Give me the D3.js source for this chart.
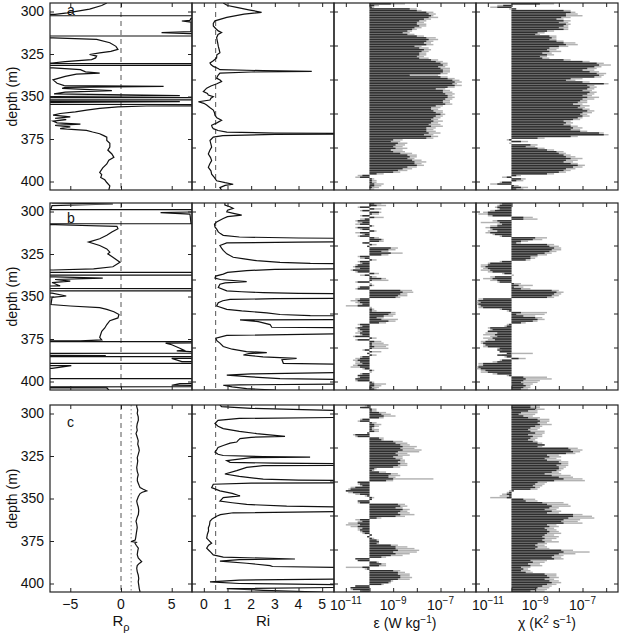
<!DOCTYPE html>
<meta charset="utf-8">
<style>
  body { margin: 0; background: #fff; }
  text { font-family: "Liberation Sans", Arial, sans-serif; fill: #111; }
</style>
<svg width="621" height="635"></svg>
<script src="https://cdn.jsdelivr.net/npm/d3@7"></script>
<script>

// ---- data ----
// profiles: [depth (m), value]; +-50 / 8 mean "off the panel" (clipped)
var rrA = [[295,-1.4],[296.5,-1.9],[298.6,-3.1],[300.8,-5.3],[301.7,-6.5],[302.4,-50],[302.6,50],[304,6.9],[305.2,6.8],[305.6,6.0],[306.2,6.9],[311.8,6.9],[312.4,4.0],[313,6.8],[314.3,50],[314.5,-50],[315.5,-6.7],[316.4,-2.4],[318.4,-1.1],[320.5,-0.5],[322.3,-0.3],[323.5,-1.0],[324.3,-2.1],[325.3,-3.1],[326.2,-2.4],[327.3,-2.5],[328.3,-2.9],[329.5,-5.5],[330.3,-6.8],[330.5,-50],[330.7,50],[331.6,50],[331.8,-50],[333.2,-6.7],[334.2,-4.0],[335.5,-3.5],[336.2,-2.1],[336.8,-4.4],[338.2,-5.5],[340.2,-6.7],[342.2,-6.3],[343.6,-5.6],[344.1,4.2],[344.6,-5.5],[345.2,-5.8],[346.5,-0.9],[347.4,-5.5],[348.5,-6.6],[349.5,5.8],[350,-6.5],[350.6,-50],[350.8,50],[351.9,50],[352.1,-50],[353,5.8],[353.4,-6.5],[354.6,-50],[354.8,50],[355.6,2.5],[356.1,-0.3],[357,-2.1],[358,-3.4],[359,-4.5],[360,-6.0],[361,-6.7],[362,-5.0],[362.8,-6.5],[363.6,-5.4],[364.5,-6.7],[365.5,-6.3],[366.3,-4.0],[367,-6.5],[367.9,-5.0],[368.9,-6.0],[369.9,-3.4],[370.9,-2.8],[371.9,-2.1],[373,-1.7],[373.9,-1.4],[375.9,-1.4],[377.5,-1.1],[379.8,-1.1],[381.5,-1.3],[383.8,-0.9],[385.8,-0.7],[387.5,-1.2],[389.7,-1.4],[392,-1.8],[394.7,-2.1],[396,-1.9],[397.7,-2.0],[399,-1.6],[400.6,-1.4],[402.6,-1.1],[405,-1.2]];
var rrB = [[295,-6.8],[295.6,-0.8],[296.5,-6.8],[298.5,-6.9],[298.8,-50],[299,50],[300.3,6.8],[300.7,3.9],[301.5,6.8],[306.9,6.9],[307.1,50],[307.3,-50],[307.8,-6.5],[308.7,-0.4],[310.1,-0.3],[312,-0.9],[314,-1.4],[316,-2.1],[318,-3.2],[320,-2.1],[322,-1.4],[323.9,-1.1],[324.9,-1.3],[326.9,-0.8],[329.9,-0.1],[332.5,-0.8],[333.8,-2.7],[334.4,-6.7],[335.7,-50],[335.9,50],[337.3,50],[337.5,-50],[338.5,-6.5],[339.2,-1.8],[340,-6.5],[341,-5.0],[341.8,-6.8],[343.8,-6.0],[345.2,-50],[345.4,50],[346.6,50],[346.8,-50],[348,-6.8],[349.7,-5.4],[350.5,-6.8],[354.7,-6.9],[355.6,-5.0],[356.6,-2.1],[357.6,-1.4],[359,-0.7],[360.6,-0.2],[362.6,-0.3],[364.2,-1.1],[366.5,-1.4],[368.5,-1.6],[370.5,-1.9],[374.1,-2.1],[375.5,-1.9],[376.1,-4.0],[376.4,-50],[376.6,50],[377.4,4.4],[378.4,5.0],[380.4,5.8],[381.5,6.2],[382,5.5],[382.4,6.8],[383.3,50],[383.5,-50],[384.8,-1.5],[385.3,-50],[385.5,50],[386.4,5.0],[388.3,6.0],[389.2,50],[389.4,-50],[390.7,-4.9],[392.3,-6.8],[398.2,-50],[398.4,50],[401.2,5.8],[402.2,5.0],[403,50],[403.2,-50],[403.8,-1.4],[405,-1.2]];
var rrC = [[295,1.55],[296,1.55],[298,1.65],[300,1.6],[302,1.7],[303.9,1.71],[306,1.6],[308,1.55],[310,1.6],[311.8,1.48],[314,1.6],[316,1.7],[318,1.65],[320,1.75],[321.8,1.8],[324,1.7],[326,1.6],[328,1.65],[330,1.6],[331.7,1.55],[334,1.6],[336,1.7],[338,1.62],[339.6,1.61],[341,1.7],[342.5,1.8],[343.6,1.88],[344.6,2.2],[345.5,2.53],[346.3,2.1],[347.1,1.88],[349,1.7],[351.5,1.55],[353,1.6],[355,1.7],[357,1.75],[359.4,1.71],[361,1.6],[363.4,1.48],[365,1.55],[367,1.6],[369,1.55],[371,1.5],[373,1.45],[374.5,1.4],[375.3,1.0],[375.8,1.5],[376.3,1.38],[377.5,1.5],[379.2,1.71],[381,1.65],[383,1.6],[385,1.7],[386.3,1.9],[387.2,2.04],[388.2,1.8],[389.5,1.6],[391.1,1.55],[393,1.6],[395,1.7],[397,1.75],[399,1.7],[401,1.75],[403,1.8],[405,1.88]];

var riA = [[295,0.82],[296.5,1.0],[297.6,1.39],[299,1.9],[300.5,2.44],[301.5,1.7],[303.5,0.97],[305.5,0.47],[307,0.4],[308.5,0.4],[310,0.5],[311.4,0.61],[312.4,0.75],[313.5,0.6],[315.4,0.54],[318,0.58],[320.4,0.61],[322.5,0.65],[324.3,0.68],[325.5,0.55],[327.3,0.54],[329,0.4],[330.3,0.26],[331.2,0.3],[332.3,0.4],[333.5,0.6],[334.2,0.68],[334.8,2.5],[335.2,4.56],[335.6,2.0],[336.2,0.68],[337.5,0.6],[339.2,0.54],[340.5,0.7],[341.2,0.75],[342.5,0.55],[343.8,0.3],[345.1,0.12],[347.1,-0.02],[348.2,0.15],[349.1,0.19],[350.1,0.4],[351,0.3],[352.1,0.26],[353.1,-0.23],[354,0.0],[355,0.12],[356.5,0.25],[358,0.4],[359.5,0.45],[361,0.47],[362.5,0.55],[364,0.75],[365.5,0.55],[366.9,0.33],[368,0.35],[368.9,0.4],[370,0.6],[370.9,0.97],[371.5,3.0],[371.9,8],[372.3,3],[373,0.8],[373.9,0.4],[375.9,0.26],[378,0.3],[379.8,0.33],[381.8,0.25],[383.8,0.19],[385.8,0.28],[387.7,0.33],[389.7,0.25],[391.7,0.19],[393.7,0.3],[395.7,0.33],[397.7,0.45],[399.6,0.54],[400.7,0.9],[401.6,1.24],[402.3,0.9],[403.6,0.68],[405,0.75]];
var riB = [[295,0.89],[296.2,0.89],[297.2,1.1],[298.2,1.24],[299.2,1.0],[300.2,0.97],[301.2,1.3],[302.1,1.6],[303,1.0],[304.1,0.82],[306.1,0.54],[307.5,0.45],[309.1,0.47],[310.5,0.55],[312,0.61],[313,0.7],[314,0.82],[315,1.5],[315.6,4],[316,8],[317.6,8],[318,4],[318.5,0.97],[320,0.68],[321.5,0.75],[322.9,0.82],[324.9,0.97],[326.9,1.24],[327.9,1.7],[328.9,2.23],[329.9,3.22],[330.5,4.5],[330.9,8],[333.6,8],[334,3],[334.8,1.81],[335.8,1.0],[336.8,0.82],[338,0.5],[339.2,0.47],[340,0.7],[341.2,1.81],[342,0.9],[342.8,0.68],[344.7,0.61],[346.7,0.97],[347.2,1.6],[347.7,2.51],[348.2,4],[348.5,8],[350.9,8],[351.3,3],[351.7,1.11],[352.5,0.8],[353.7,0.61],[355.6,0.54],[357.6,0.97],[358.5,1.6],[359.6,2.66],[360.6,3.22],[361.2,4.5],[361.6,8],[363.5,8],[363.8,1.53],[364.8,2.3],[366.5,2.8],[368.1,2.87],[368.5,8],[371.5,8],[372.9,0.97],[374.5,0.51],[376,0.55],[377.4,0.68],[379.4,0.82],[381,1.2],[382.4,1.8],[383,2.66],[383.6,1.9],[384.4,1.67],[385.5,2.5],[386.4,3.92],[387.2,3.3],[389.3,3.36],[390.3,8],[394.3,8],[395.5,2],[396.3,0.97],[397.3,2],[398.3,3.22],[399.2,8],[401.2,8],[402,1.5],[402.2,0.82],[403.2,1.2],[404.2,1.81],[405,3.0]];
var riC = [[295,0.68],[296,0.75],[297,2],[298,5],[299,8],[302,8],[302.9,1.5],[304,0.6],[305.9,0.47],[307.5,0.6],[308.9,0.82],[310.5,1.5],[311.8,2.23],[313.4,3.43],[314,2.0],[314.8,1.53],[315.8,1.45],[316.8,1.39],[317.4,1.11],[318.8,0.82],[320,0.6],[321.4,0.54],[322.7,0.47],[324,0.6],[324.7,0.82],[325.4,2.5],[325.7,4.49],[326,2],[327.7,0.97],[328.7,1.11],[329.2,3],[329.7,8],[330.5,8],[330.7,2.5],[331.7,1.81],[333.6,1.39],[335.6,0.89],[337,1.5],[338.6,2.51],[339.2,4],[339.6,8],[340.6,8],[341,2],[341.6,0.4],[343.6,0.33],[345.5,0.68],[347,1.2],[348.5,1.53],[349.5,0.82],[350.5,0.75],[351.5,0.68],[352.5,1.2],[353.5,1.81],[354.5,3.5],[355.4,8],[357.4,8],[358.4,1.24],[359.5,0.7],[360.4,0.54],[362,0.35],[363.4,0.26],[365.5,0.24],[367.3,0.19],[369,0.2],[371,0.15],[373.3,0.12],[374.5,0.2],[376.3,0.33],[377.5,0.2],[379.2,0.12],[381,0.25],[383.2,0.4],[384.5,0.82],[385.6,3.85],[386,1.5],[386.8,0.68],[388.1,1.81],[389.5,2.8],[390,2.9],[391.1,8],[397.1,8],[398,1.5],[399,0.26],[400,1.5],[401,8],[402,8],[403,0.97],[404,2.51],[405,5]];

// 1 m bins from 295 to 404 m, log10 of epsilon / chi; bars start at 1e-10
var epsDarkA = [-9.1,-9.8,-9.9,-8.3,-8.0, -7.6,-7.5,-7.4,-7.5,-7.7, -7.9,-8.0,-8.0,-7.9,-8.1, -8.2,-8.4,-8.6,-8.4,-8.0, -7.6,-7.5,-7.6,-7.7,-7.6, -8.1,-7.9,-7.7,-7.8,-7.9, -7.9,-8.0,-7.9,-7.4,-7.2, -7.0,-6.9,-7.1,-7.0,-6.9, -6.9,-7.0,-8.3,-7.0,-6.7, -6.5,-6.4,-6.5,-6.4,-6.7, -7.2,-6.9,-6.9,-6.8,-6.7, -6.7,-6.8,-6.9,-6.9,-6.8, -7.2,-7.4,-7.4,-7.3,-7.2, -7.0,-7.2,-7.3,-7.4,-7.3, -7.4,-7.5,-7.4,-7.6,-7.6, -7.6,-7.5,-7.7,-7.4,-7.6, -9.0,-9.1,-8.8,-8.9,-9.0, -8.9,-9.1,-9.0,-8.7,-8.4, -8.3,-8.4,-8.2,-8.1,-8.1, -8.0,-8.4,-8.6,-8.8,-9.0, -9.7,-10.3,-10.4,-9.9,-9.9, -9.9,-9.8,-9.8,-9.9,-10.0];
var epsLightA = [-8.5,-9.6,-9.8,-8.0,-7.8, -7.3,-7.2,-7.3,-7.1,-7.4, -7.6,-7.7,-7.6,-7.6,-7.8, -8.0,-8.2,-8.3,-8.1,-7.7, -7.2,-7.1,-7.3,-7.4,-7.3, -7.8,-7.5,-7.4,-7.5,-7.6, -7.6,-7.7,-7.5,-7.1,-6.9, -6.7,-6.7,-6.8,-6.6,-6.6, -6.6,-6.7,-7.1,-6.7,-6.4, -6.2,-6.1,-6.3,-6.1,-6.4, -6.8,-6.6,-6.5,-6.4,-6.5, -6.4,-6.5,-6.6,-6.6,-6.5, -6.9,-7.0,-7.1,-6.9,-6.9, -6.8,-6.9,-7.0,-7.1,-6.9, -7.1,-7.0,-6.9,-7.2,-7.3, -7.2,-7.0,-7.3,-7.1,-7.3, -8.6,-8.7,-8.4,-8.5,-8.6, -8.4,-8.6,-8.5,-8.2,-8.0, -8.0,-8.1,-7.8,-7.6,-7.8, -7.7,-8.0,-8.2,-8.4,-8.7, -9.4,-10.5,-10.6,-9.8,-9.7, -9.7,-9.4,-9.5,-9.6,-9.8];
var chiDarkA = [-8.8,-10.35,-10.6,-9.8,-7.8, -7.5,-7.7,-7.7,-7.9,-8.1, -7.8,-8.0,-7.7,-7.8,-8.0, -7.8,-8.5,-8.9,-9.0,-8.4, -8.3,-8.4,-8.1,-7.8,-7.7, -8.0,-8.4,-8.5,-8.4,-8.7, -8.5,-8.8,-8.7,-7.8,-7.0, -6.4,-6.3,-6.5,-6.8,-7.0, -6.7,-6.4,-6.3,-6.5,-7.5, -7.7,-7.0,-6.1,-6.8,-6.7, -6.8,-7.0,-6.7,-6.8,-7.0, -6.8,-7.0,-7.1,-7.2,-7.4, -7.1,-7.2,-7.0,-6.8,-7.0, -7.1,-7.0,-7.2,-7.4,-7.8, -7.7,-7.8,-7.5,-7.4,-7.5, -7.1,-6.3,-6.1,-7.5,-8.9, -10.1,-9.6,-10.0,-9.2,-9.4, -8.9,-8.5,-8.1,-8.0,-7.8, -7.7,-7.5,-7.7,-7.8,-7.5, -7.2,-7.4,-7.7,-7.8,-8.0, -8.5,-9.8,-10.2,-9.6,-9.8, -10.4,-10.6,-9.9,-9.6,-9.8];
var chiLightA = [-8.2,-10.6,-10.9,-10.1,-7.5, -7.3,-7.2,-7.0,-7.5,-7.8, -7.5,-7.6,-7.5,-7.6,-7.6, -7.6,-8.2,-8.6,-8.8,-8.1, -8.1,-8.1,-7.8,-7.3,-7.2, -7.6,-8.0,-8.1,-7.9,-8.3, -8.2,-8.5,-8.4,-7.5,-6.7, -6.1,-5.8,-6.2,-6.4,-6.5, -6.3,-6.0,-6.1,-6.2,-7.0, -7.3,-6.7,-5.9,-6.5,-6.4, -6.5,-6.6,-6.4,-6.5,-6.6, -6.3,-6.5,-6.8,-6.8,-7.0, -6.7,-6.9,-6.7,-6.5,-6.6, -6.8,-6.7,-7.0,-7.1,-7.5, -7.4,-7.5,-7.2,-7.0,-7.1, -6.8,-6.1,-5.9,-7.2,-8.6, -10.2,-9.3,-10.1,-8.9,-9.0, -8.6,-8.2,-7.8,-7.7,-7.5, -7.3,-7.0,-7.2,-7.4,-7.2, -6.9,-7.0,-7.3,-7.5,-7.7, -8.2,-9.6,-10.4,-9.4,-9.5, -10.5,-10.9,-9.7,-9.3,-9.5];

var epsDarkB = [-9.8,-9.7,-10.4,-9.8,-10.3, -9.6,-9.9,-10.3,-9.8,-10.2, -10.5,-10.3,-10.4,-9.9,-10.5, -10.3,-9.8,-10.4,-10.2,-10.4, -9.8,-9.5,-9.6,-10.3,-9.9, -10.1,-9.1,-9.2,-9.5,-9.1, -9.5,-10.4,-10.2,-9.9,-10.4, -10.3,-10.5,-10.6,-10.4,-10.7, -10.5,-9.8,-10.2,-9.9,-9.5, -9.9,-10.5,-10.0,-9.9,-10.4, -10.5,-8.7,-8.6,-8.7,-8.8, -8.9,-10.4,-10.5,-10.4,-10.3, -10.5,-10.0,-9.9,-9.9,-9.1, -9.2,-9.4,-9.7,-9.5,-9.2, -9.6,-10.4,-10.3,-10.5,-10.4, -10.3,-10.4,-10.3,-10.6,-9.9, -10.5,-9.8,-9.9,-9.9,-9.8, -9.9,-10.2,-9.9,-10.1,-9.9, -10.3,-10.4,-10.5,-10.4,-10.3, -10.5,-10.4,-10.2,-9.9,-10.0, -10.3,-10.5,-10.4,-10.6,-10.5, -9.9,-9.8,-9.8,-9.9,-9.8];
var epsLightB = [-9.5,-9.3,-10.5,-9.5,-10.4, -9.5,-9.6,-10.4,-9.4,-10.4, -10.6,-10.5,-10.6,-9.8,-10.6, -10.4,-9.7,-10.6,-10.3,-10.5, -9.6,-9.4,-9.4,-10.2,-9.7, -10.0,-8.8,-8.9,-9.2,-8.6, -9.2,-10.5,-10.4,-9.7,-10.5, -10.4,-10.6,-10.7,-10.6,-10.8, -10.6,-9.6,-10.4,-9.7,-9.3, -9.2,-10.6,-9.9,-9.8,-10.5, -10.6,-8.2,-8.15,-8.4,-8.4, -8.7,-10.6,-10.8,-10.6,-10.5, -11.0,-9.9,-9.8,-9.7,-8.9, -8.9,-9.0,-9.4,-8.8,-8.9, -9.3,-10.5,-10.4,-10.6,-10.5, -10.5,-10.6,-10.4,-10.7,-9.7, -10.6,-9.5,-9.4,-9.2,-9.3, -9.2,-10.3,-9.5,-10.0,-9.7, -10.4,-10.6,-10.7,-10.6,-10.6, -10.7,-10.8,-10.3,-9.8,-9.9, -10.4,-10.4,-10.5,-10.5,-10.6, -9.8,-9.3,-9.5,-9.6,-9.7];
var chiDarkB = [-10.4,-10.5,-10.6,-10.5,-10.7, -11.0,-11.0,-10.8,-9.5,-9.5, -10.6,-10.5,-10.4,-10.6,-10.9, -10.8,-10.6,-10.9,-10.7,-10.4, -9.0,-9.1,-9.6,-9.8,-8.5, -8.4,-8.2,-8.3,-8.4,-8.6, -8.9,-9.2,-9.2,-9.4,-10.4, -10.9,-11.0,-11.1,-11.0,-10.9, -10.8,-10.3,-10.0,-10.7,-10.8, -10.6,-10.5,-9.9,-9.7,-9.9, -9.6,-8.3,-8.1,-8.2,-8.3, -8.5,-11.2,-11.4,-11.3,-11.4, -11.3,-11.2,-10.4,-10.1,-9.6, -9.8,-9.5,-9.0,-8.9,-9.1, -9.6,-10.1,-10.2,-10.9,-10.8, -11.0,-10.6,-10.7,-10.6,-10.8, -10.7,-11.1,-11.2,-11.1,-11.0, -10.5,-10.6,-10.5,-10.2,-10.6, -10.2,-9.7,-10.4,-10.6,-11.2, -11.2,-11.4,-11.3,-11.1,-11.0, -10.6,-10.1,-9.5,-9.4,-9.5, -9.6,-9.5,-9.4,-9.5,-9.6];
var chiLightB = [-10.5,-10.6,-10.7,-10.6,-10.9, -11.2,-11.4,-11.0,-9.1,-8.9, -10.8,-11.3,-10.6,-10.9,-11.1, -10.9,-11.0,-11.1,-10.8,-10.5, -8.5,-8.7,-9.3,-9.6,-8.2, -8.0,-7.9,-7.9,-8.1,-8.3, -8.5,-8.9,-9.0,-9.2,-10.5, -11.0,-11.3,-11.3,-11.2,-11.3, -11.0,-10.4,-9.9,-10.9,-11.2, -10.9,-10.6,-9.6,-9.1,-9.5, -9.2,-8.0,-7.8,-7.9,-8.0, -8.2,-11.4,-11.5,-11.5,-11.5, -11.4,-11.4,-10.5,-10.2,-8.5, -8.6,-9.0,-8.7,-8.6,-8.9, -9.4,-10.2,-10.3,-11.0,-10.9, -11.0,-11.1,-11.2,-10.9,-11.2, -11.0,-11.3,-11.3,-11.2,-11.2, -10.6,-10.4,-10.5,-9.1,-10.4, -10.3,-9.4,-10.5,-10.8,-11.4, -11.4,-11.5,-11.5,-11.3,-11.3, -10.8,-10.2,-8.5,-8.3,-8.8, -8.9,-9.1,-9.2,-9.2,-9.3];

var epsDarkC = [-10.1,-10.4,-9.9,-9.9,-9.6, -9.5,-9.4,-9.6,-10.3,-10.4, -9.9,-9.8,-9.8,-9.9,-9.9, -9.8,-10.1,-10.6,-10.5,-9.6, -9.5,-9.0,-8.9,-8.7,-8.6, -8.7,-8.6,-8.8,-8.9,-8.8, -9.0,-8.9,-8.7,-8.8,-8.7, -8.8,-9.0,-9.8,-9.9,-9.6, -9.1,-9.2,-9.2,-9.0,-9.3, -10.5,-10.4,-10.3,-10.6,-10.8, -11.0,-10.7,-10.4,-10.1,-9.9, -9.9,-10.5,-10.4,-8.8,-8.7, -8.9,-8.6,-8.7,-8.8,-8.7, -8.9,-9.7,-10.4,-10.3,-10.5, -10.4,-10.5,-10.3,-10.4,-10.3, -10.2,-9.9,-10.1,-9.9,-9.7, -9.6,-9.7,-9.1,-8.9,-8.9, -8.8,-9.0,-8.9,-9.1,-9.5, -10.6,-10.5,-9.7,-9.5,-9.6, -10.3,-10.1,-9.0,-8.8,-8.8, -8.7,-8.7,-8.8,-9.1,-9.2, -9.5,-10.6,-10.8,-10.7,-10.4];
var epsLightC = [-10.2,-10.3,-9.7,-9.7,-9.3, -9.1,-8.9,-9.4,-10.4,-10.5, -9.7,-9.5,-9.6,-9.8,-9.6, -9.6,-10.0,-10.7,-10.6,-9.4, -9.4,-8.6,-8.4,-8.3,-8.0, -8.1,-7.8,-7.9,-8.4,-8.3, -8.6,-8.6,-8.5,-8.5,-8.4, -8.4,-8.7,-9.7,-9.8,-9.3, -8.8,-8.7,-8.9,-7.3,-9.0, -10.5,-10.5,-10.4,-10.8,-10.9, -11.0,-10.9,-10.6,-10.2,-9.8, -9.9,-10.4,-10.5,-8.5,-8.4, -8.6,-8.3,-8.4,-8.3,-8.1, -8.5,-9.5,-10.6,-10.5,-10.9, -11.0,-10.8,-10.5,-10.5,-10.4, -10.3,-9.9,-10.0,-9.8,-9.6, -9.7,-9.6,-8.8,-8.4,-8.1, -7.9,-8.0,-8.3,-8.6,-9.3, -10.4,-10.4,-9.6,-9.3,-9.3, -11.0,-10.2,-8.7,-8.5,-8.3, -8.3,-8.2,-8.3,-9.0,-9.1, -9.4,-10.6,-10.8,-10.8,-10.3];
var chiDarkC = [-9.2,-9.2,-9.0,-9.3,-9.6, -9.7,-9.5,-9.3,-8.9,-8.8, -8.9,-8.8,-9.0,-9.2,-9.3, -9.2,-9.0,-9.3,-9.1,-9.2, -9.3,-9.1,-8.9,-8.6,-8.9, -7.6,-7.5,-7.4,-7.7,-8.5, -8.4,-8.6,-8.5,-8.0,-7.9, -8.1,-8.0,-8.0,-8.1,-8.3, -8.6,-8.3,-8.0,-7.8,-8.2, -8.9,-9.0,-9.1,-9.0,-9.2, -9.9,-10.1,-10.2,-10.1,-10.2, -9.5,-9.4,-8.7,-8.5,-8.3, -8.4,-8.6,-8.3,-8.5,-7.4, -7.4,-7.6,-7.8,-7.9,-7.8, -8.5,-8.4,-8.6,-8.5,-8.4, -8.5,-8.6,-8.7,-8.6,-8.7, -8.6,-8.9,-9.0,-8.9,-9.0, -7.9,-7.8,-8.0,-8.2,-8.3, -8.2,-9.2,-9.1,-9.3,-9.2, -9.6,-9.5,-9.6,-9.4,-8.6, -8.5,-8.4,-8.6,-8.4,-8.3, -8.5,-8.7,-8.9,-9.0,-9.2];
var chiLightC = [-8.8,-8.8,-8.6,-8.9,-8.9, -9.0,-9.1,-8.8,-8.4,-8.4, -8.5,-8.3,-8.7,-8.8,-8.9, -8.6,-8.6,-8.7,-8.7,-8.9, -9.0,-8.9,-8.7,-8.6,-8.7, -7.2,-7.0,-7.1,-7.3,-8.0, -7.9,-8.1,-7.9,-7.6,-7.6, -7.6,-7.7,-7.8,-7.9,-8.0, -7.9,-7.5,-7.4,-7.0,-6.9, -8.5,-8.6,-8.7,-8.8,-8.9, -10.1,-10.2,-10.4,-10.5,-10.9, -9.0,-8.9,-7.8,-7.6,-7.5, -8.0,-8.1,-7.9,-8.0,-7.0, -6.6,-6.5,-7.1,-7.2,-7.0, -8.1,-8.0,-8.2,-8.1,-8.0, -7.9,-8.2,-8.0,-8.1,-8.3, -8.0,-8.5,-8.6,-8.5,-8.4, -7.4,-6.7,-7.3,-7.8,-7.9, -7.8,-8.5,-8.6,-8.8,-8.7, -9.2,-9.3,-9.2,-9.1,-8.1, -8.1,-8.0,-8.2,-8.0,-7.9, -8.1,-8.3,-8.4,-8.5,-8.6];

var depthTicks1 = [300, 325, 350, 375, 400];
var depthTicks = [300, 320, 340, 360, 380, 400];
var rrTicks = [-5, 0, 5];
var riTicks = [0, 1, 2, 3, 4, 5];
var logTicks = [-11, -10, -9, -8, -7, -6];
var logLabels = [-11, -9, -7];
var rowNames = ["a", "b", "c"];

// ---- layout ----
var svg = d3.select("svg");
var colX = [50, 192, 334, 476, 618];
var rowTop = [3, 203, 405];
var w = 142, h = 187;
var bins = d3.range(295, 405);

var y = d3.scaleLinear().domain([295, 405]).range([0, h]);
var xRr = d3.scaleLinear().domain([-7, 7]).range([0, w]);
var xRi = d3.scaleLinear().domain([-0.5, 5.5]).range([0, w]);
var xLog = d3.scaleLog().domain([Math.pow(10, -11.5), Math.pow(10, -5.5)]).range([0, w]);

var rows = [
  {rr: rrA, ri: riA, eps: [epsDarkA, epsLightA], chi: [chiDarkA, chiLightA]},
  {rr: rrB, ri: riB, eps: [epsDarkB, epsLightB], chi: [chiDarkB, chiLightB]},
  {rr: rrC, ri: riC, eps: [epsDarkC, epsLightC], chi: [chiDarkC, chiLightC]}
];

function axes(g, x, xt, yt, showY) {
  var ax = [
    [d3.axisLeft(y).tickValues(yt).tickFormat(showY ? d3.format("d") : ""), 0, 0],
    [d3.axisRight(y).tickValues(yt).tickFormat(""), w, 0],
    [d3.axisTop(x).tickValues(xt).tickFormat(""), 0, 0],
    [d3.axisBottom(x).tickValues(xt).tickFormat(""), 0, h]
  ];
  ax.forEach(function (a) {
    var gg = g.append("g").attr("transform", "translate(" + a[1] + "," + a[2] + ")")
      .call(a[0].tickSize(-4).tickSizeOuter(0).tickPadding(6));
    gg.select(".domain").remove();
    gg.selectAll("line").attr("stroke", "#222");
    gg.selectAll("text").attr("font-size", 14).attr("fill", "#111")
      .attr("font-family", "Liberation Sans, Arial, sans-serif");
  });
  g.append("rect").attr("width", w).attr("height", h)
    .attr("fill", "none").attr("stroke", "#222").attr("stroke-width", 1.2);
}

function profile(g, x, data) {
  g.append("path").datum(data)
    .attr("clip-path", g.attr("data-clip"))
    .attr("fill", "none").attr("stroke", "#111").attr("stroke-width", 1.2)
    .attr("d", d3.line().x(function (d) { return x(d[1]); }).y(function (d) { return y(d[0]); }));
}

function vline(g, xv, dash, col) {
  g.append("line").attr("x1", xv).attr("x2", xv).attr("y1", 0).attr("y2", h)
    .attr("stroke", col).attr("stroke-width", 1).attr("stroke-dasharray", dash);
}

function bars(g, pair) {
  var base = xLog(1e-10);
  var bh = y(296) - y(295);
  [[pair[1], "#b2b2b2"], [pair[0], "#2f2f2f"]].forEach(function (s) {
    g.append("g").attr("clip-path", g.attr("data-clip"))
      .selectAll("rect").data(s[0]).join("rect")
      .attr("x", function (v) { return Math.min(base, xLog(Math.pow(10, v))); })
      .attr("width", function (v) { return Math.abs(xLog(Math.pow(10, v)) - base); })
      .attr("y", function (v, i) { return y(bins[i]) + 0.1; })
      .attr("height", bh - 0.25)
      .attr("fill", s[1]);
  });
}

rows.forEach(function (row, r) {
  for (var c = 0; c < 4; c++) {
    var g = svg.append("g").attr("transform", "translate(" + colX[c] + "," + rowTop[r] + ")");
    var id = "clip" + r + c;
    g.append("clipPath").attr("id", id).append("rect").attr("width", w).attr("height", h);
    g.attr("data-clip", "url(#" + id + ")");
    if (c === 0) {
      vline(g, xRr(0), "5,4", "#555");
      if (r === 2) vline(g, xRr(1), "1.5,2.5", "#888");
      profile(g, xRr, row.rr);
      axes(g, xRr, rrTicks, depthTicks1, true);
    } else if (c === 1) {
      vline(g, xRi(0.5), "5,4", "#555");
      profile(g, xRi, row.ri);
      axes(g, xRi, riTicks, depthTicks, false);
    } else {
      bars(g, c === 2 ? row.eps : row.chi);
      axes(g, xLog, logTicks.map(function (e) { return Math.pow(10, e); }), depthTicks, false);
    }
  }
  // depth label + panel letter
  svg.append("text").attr("transform", "translate(17," + (rowTop[r] + h / 2) + ") rotate(-90)")
    .attr("text-anchor", "middle").attr("font-size", 14).text("depth (m)");
  svg.append("text").attr("x", 67).attr("y", [15, 223, 427][r])
    .attr("font-size", 14).text(rowNames[r]);
});

// bottom tick labels (row c only)
var bot = rowTop[2] + h;
var fmt = d3.format("d");
rrTicks.forEach(function (t) {
  svg.append("text").attr("x", colX[0] + xRr(t)).attr("y", bot + 17)
    .attr("text-anchor", "middle").attr("font-size", 14).text(fmt(t));
});
riTicks.forEach(function (t) {
  svg.append("text").attr("x", colX[1] + xRi(t)).attr("y", bot + 17)
    .attr("text-anchor", "middle").attr("font-size", 14).text(t);
});
[2, 3].forEach(function (c) {
  logLabels.forEach(function (e) {
    var t = svg.append("text").attr("x", colX[c] + xLog(Math.pow(10, e))).attr("y", bot + 18)
      .attr("text-anchor", "middle").attr("font-size", 14);
    t.append("tspan").text("10");
    t.append("tspan").attr("font-size", 10).attr("dy", -6).text("\u2212" + (-e));
  });
});

// axis titles
var ty = bot + 36;
var t1 = svg.append("text").attr("x", colX[0] + w / 2).attr("y", ty - 2).attr("text-anchor", "middle").attr("font-size", 15);
t1.append("tspan").text("R");
t1.append("tspan").attr("font-size", 11).attr("dy", 5).text("\u03c1");
svg.append("text").attr("x", colX[1] + w / 2).attr("y", ty - 2).attr("text-anchor", "middle").attr("font-size", 15).text("Ri");
var t3 = svg.append("text").attr("x", colX[2] + w / 2).attr("y", ty).attr("text-anchor", "middle").attr("font-size", 14);
t3.append("tspan").text("\u03b5 (W kg");
t3.append("tspan").attr("font-size", 10).attr("dy", -5).text("\u22121");
t3.append("tspan").attr("dy", 5).text(")");
var t4 = svg.append("text").attr("x", colX[3] + w / 2).attr("y", ty).attr("text-anchor", "middle").attr("font-size", 14);
t4.append("tspan").text("\u03c7 (K");
t4.append("tspan").attr("font-size", 10).attr("dy", -5).text("2");
t4.append("tspan").attr("dy", 5).text(" s");
t4.append("tspan").attr("font-size", 10).attr("dy", -5).text("\u22121");
t4.append("tspan").attr("dy", 5).text(")");

</script>
